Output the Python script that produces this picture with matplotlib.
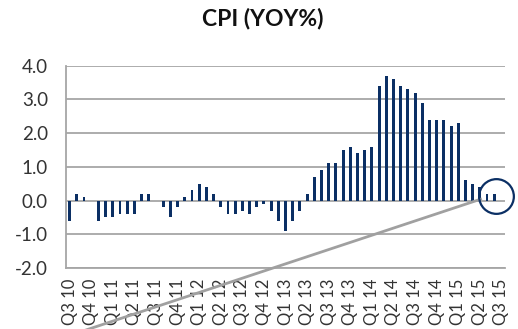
import matplotlib
matplotlib.use("Agg")
import matplotlib.pyplot as plt
import numpy as np

# monthly CPI, year-on-year %, Jul 2010 .. Sep 2015 (last month not yet out)
cpi_yoy = [
    -0.6, 0.2, 0.1, 0.0, -0.6, -0.5, -0.5, -0.4, -0.4, -0.4, 0.2, 0.2,
    0.0, -0.2, -0.5, -0.2, 0.1, 0.3, 0.5, 0.4, 0.2, -0.2, -0.4, -0.4,
    -0.3, -0.4, -0.2, -0.1, -0.3, -0.6, -0.9, -0.6, -0.3, 0.2, 0.7, 0.9,
    1.1, 1.1, 1.5, 1.6, 1.4, 1.5, 1.6, 3.4, 3.7, 3.6, 3.4, 3.3,
    3.2, 2.9, 2.4, 2.4, 2.4, 2.2, 2.3, 0.6, 0.5, 0.4, 0.2, 0.2,
    np.nan,
]
quarter_labels = [
    "Q3 10", "Q4 10", "Q1 11", "Q2 11", "Q3 11", "Q4 11", "Q1 12",
    "Q2 12", "Q3 12", "Q4 12", "Q1 13", "Q2 13", "Q3 13", "Q4 13",
    "Q1 14", "Q2 14", "Q3 14", "Q4 14", "Q1 15", "Q2 15", "Q3 15",
]
y_ticks = [-2.0, -1.0, 0.0, 1.0, 2.0, 3.0, 4.0]

NAVY = "#0b2f64"
GRID = "#a6a6a6"

plt.rcParams["font.family"] = ["Lato", "DejaVu Sans"]

fig = plt.figure(figsize=(5.18, 3.29), dpi=100)
ax = fig.add_axes([0.1274, 0.1854, 0.8476, 0.6149])

x = np.arange(len(cpi_yoy))
ax.bar(x, cpi_yoy, width=0.4, color=NAVY, zorder=3)

ax.set_xlim(-0.5, len(cpi_yoy) - 0.5)
ax.set_ylim(-2.0, 4.0)
ax.set_yticks(y_ticks)
ax.set_yticklabels([f"{v:.1f}" for v in y_ticks], fontsize=13.5, color="#333333")
ax.set_xticks(x[::3])
ax.set_xticklabels(quarter_labels, rotation=90, fontsize=12, color="#333333")
ax.tick_params(axis="y", length=0, pad=13)
ax.tick_params(axis="x", length=0, pad=8)

ax.grid(axis="y", color=GRID, lw=1.3, zorder=0)
for side in ["top", "right"]:
    ax.spines[side].set_visible(False)
for side in ["left", "bottom"]:
    ax.spines[side].set_color(GRID)
    ax.spines[side].set_linewidth(1.3)

# trend line running up to the latest readings, and a ring around them
ax.plot([0.0, 57.1], [-4.0, 0.04], color="#a0a0a0", lw=2, clip_on=False, zorder=4)
ax.plot([59.3], [0.14], "o", ms=25, mfc="none", mec=NAVY, mew=1.6,
        clip_on=False, zorder=5)

fig.text(0.508, 0.945, "CPI (YOY%)", ha="center", va="center",
         fontsize=16.5, fontweight="bold", color="#111111")

fig.savefig("out.png", dpi=100)
